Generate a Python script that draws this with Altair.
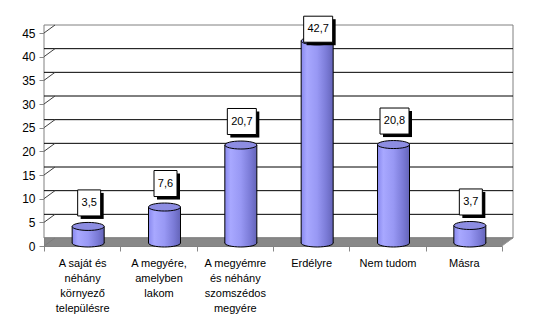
import altair as alt
import pandas as pd

categories = [
    "A saját és\nnéhány\nkörnyező\ntelepülésre",
    "A megyére,\namelyben\nlakom",
    "A megyémre\nés néhány\nszomszédos\nmegyére",
    "Erdélyre",
    "Nem tudom",
    "Másra",
]
values = [3.5, 7.6, 20.7, 42.7, 20.8, 3.7]
value_labels = ["3,5", "7,6", "20,7", "42,7", "20,8", "3,7"]
y_ticks = [0, 5, 10, 15, 20, 25, 30, 35, 40, 45]

FONT = "Liberation Sans"
DEPTH_X = 11
DEPTH_Y = 8

df = pd.DataFrame({"cat": categories, "value": values, "label": value_labels})
df["nchar"] = df["label"].str.len()
grid_df = pd.DataFrame({"v": [t for t in y_ticks if 0 < t < 45]})
tick_df = pd.DataFrame({"v": y_ticks})
zero_df = pd.DataFrame({"v": [0], "top": [45]})

xs = alt.Scale(domain=categories, paddingInner=0, paddingOuter=0)
ys = alt.Scale(domain=[0, 45], nice=False, zero=True)

x_axis = alt.Axis(
    labelAngle=0, tickBand="extent", labelExpr="split(datum.label, '\\n')",
    labelFontSize=11, labelLineHeight=15, labelPadding=6, tickSize=5,
    labelOverlap=False, labelFont=FONT, labelColor="black",
)
y_axis = alt.Axis(values=y_ticks, tickSize=5, labelPadding=4, labelFontSize=12,
                  labelFont=FONT, labelColor="black", labelOverlap=False,
                  labelFlush=False)


def X():
    return alt.X("cat:N", scale=xs, title=None, axis=x_axis)


def Y(field):
    return alt.Y(field, scale=ys, title=None, axis=y_axis)


bar_grad = alt.LinearGradient(
    gradient="linear", x1=0, x2=1, y1=0, y2=0,
    stops=[
        alt.GradientStop(color="#8888ee", offset=0),
        alt.GradientStop(color="#a8a8ff", offset=0.18),
        alt.GradientStop(color="#9898f4", offset=0.5),
        alt.GradientStop(color="#7a7ad6", offset=0.8),
        alt.GradientStop(color="#6464b8", offset=1),
    ],
)
ellipse = "M -1 0 A 1 0.25 0 1 1 1 0 A 1 0.25 0 1 1 -1 0 Z"
BW = 32
BX = 6
BY = -3

# back wall
wall = alt.Chart(zero_df).mark_rect(
    fill="white", stroke="#808080", strokeWidth=1,
    xOffset=DEPTH_X, x2Offset=DEPTH_X, yOffset=-DEPTH_Y, y2Offset=-DEPTH_Y,
).encode(y=Y("v:Q"), y2="top:Q")

grid = alt.Chart(grid_df).mark_rule(
    color="black", strokeWidth=1, xOffset=DEPTH_X, yOffset=-DEPTH_Y
).encode(y=Y("v:Q"))

diag = alt.Chart(tick_df).mark_rule(
    color="#404040", strokeWidth=1, y2Offset=-DEPTH_Y
).encode(x=alt.value(0), x2=alt.value(DEPTH_X), y=Y("v:Q"), y2="v:Q")

floor_layers = []
for k in range(DEPTH_Y + 1):
    floor_layers.append(
        alt.Chart(zero_df).mark_rule(
            color="#808080", strokeWidth=1.5,
            xOffset=k * DEPTH_X / DEPTH_Y, yOffset=-k,
        ).encode(y=Y("v:Q"))
    )

base = alt.Chart(df).transform_calculate(zero="0")
bottom_ell = base.mark_point(
    shape=ellipse, size=BW * BW, filled=True, fill=bar_grad, stroke="black",
    strokeWidth=1, opacity=1, fillOpacity=1, strokeOpacity=1, xOffset=BX, yOffset=BY,
).encode(x=X(), y=Y("zero:Q"))

body = base.mark_bar(
    width=BW, xOffset=BX, yOffset=BY, y2Offset=BY, fill=bar_grad, strokeWidth=0,
).encode(x=X(), y=Y("value:Q"))

sides = []
for dx in (BX - BW / 2, BX + BW / 2):
    sides.append(base.mark_rule(
        color="black", strokeWidth=1, xOffset=dx, yOffset=BY, y2Offset=BY
    ).encode(x=X(), y=Y("value:Q"), y2="zero:Q"))

top_ell = base.mark_point(
    shape=ellipse, size=BW * BW, filled=True, fill="#8d8de2", stroke="black",
    strokeWidth=1, opacity=1, fillOpacity=1, strokeOpacity=1, xOffset=BX, yOffset=BY,
).encode(x=X(), y=Y("value:Q"))

lab = base.transform_calculate(
    labY="min(datum.value + 5.6, 45.8)"
).transform_calculate(lo="datum.labY - 2.75", hi="datum.labY + 2.75")

LX = BX + 1
box_layers = []
for n, w in ((3, 23), (4, 29)):
    sub = lab.transform_filter(f"datum.nchar == {n}")
    box_layers.append(sub.mark_bar(
        width=w, fill="black", xOffset=LX + 3, yOffset=3, y2Offset=3
    ).encode(x=X(), y=Y("lo:Q"), y2="hi:Q"))
    box_layers.append(sub.mark_bar(
        width=w, fill="white", stroke="black", strokeWidth=1, xOffset=LX
    ).encode(x=X(), y=Y("lo:Q"), y2="hi:Q"))

texts = lab.mark_text(
    font=FONT, fontSize=11, color="black", xOffset=LX, baseline="middle", align="center"
).encode(x=X(), y=Y("labY:Q"), text="label:N")

chart = alt.layer(
    wall, grid, diag, *floor_layers, bottom_ell, body, *sides, top_ell,
    *box_layers, texts,
).properties(
    width=458, height=213,
    autosize=alt.AutoSizeParams(type="none"),
    padding={"left": 44, "top": 33, "right": 36, "bottom": 90},
).configure_view(stroke=None).configure_axis(
    domainColor="black", tickColor="black", grid=False, domainWidth=1, tickWidth=1,
).configure(background="white")

chart.save("out.html", embed_options={"renderer": "svg", "actions": False})
